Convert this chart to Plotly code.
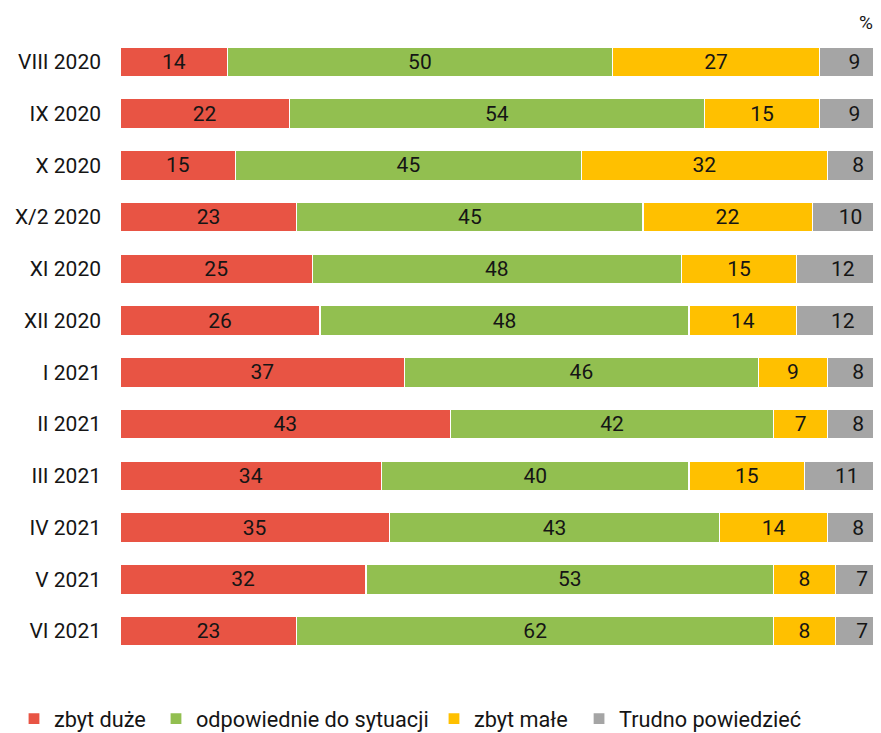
import plotly.graph_objects as go

categories = ["VIII 2020", "IX 2020", "X 2020", "X/2 2020", "XI 2020", "XII 2020",
              "I 2021", "II 2021", "III 2021", "IV 2021", "V 2021", "VI 2021"]
zbyt_duze = [14, 22, 15, 23, 25, 26, 37, 43, 34, 35, 32, 23]
odpowiednie = [50, 54, 45, 45, 48, 48, 46, 42, 40, 43, 53, 62]
zbyt_male = [27, 15, 32, 22, 15, 14, 9, 7, 15, 14, 8, 8]
trudno = [9, 9, 8, 10, 12, 12, 8, 8, 11, 8, 7, 7]

series = [
    ("zbyt duże", zbyt_duze, "#E85444", "legend"),
    ("odpowiednie do sytuacji", odpowiednie, "#92BF50", "legend2"),
    ("zbyt małe", zbyt_male, "#FFC000", "legend3"),
    ("Trudno powiedzieć", trudno, "#A5A5A5", "legend4"),
]

TXT = "#151515"

fig = go.Figure()
for name, vals, col, lg in series:
    fig.add_trace(go.Bar(
        y=categories, x=vals, name=name, orientation="h", legend=lg,
        marker=dict(color=col, line=dict(color="white", width=1.2)),
        text=[str(v) for v in vals], textposition="inside",
        insidetextanchor="middle", textangle=0, constraintext="none",
        textfont=dict(color=TXT, size=21, family="Roboto"),
        hoverinfo="skip",
    ))

def leg(xpos):
    return dict(orientation="h", x=xpos, xanchor="left", y=-0.066, yanchor="top",
                font=dict(size=21.7, color=TXT, family="Roboto"), itemwidth=30,
                bgcolor="rgba(0,0,0,0)")

# page body has an 8px margin, so the figure is sized/offset to compensate
fig.update_layout(
    barmode="stack",
    bargap=0.43,
    width=873, height=725,
    margin=dict(l=112, r=0, t=28, b=76, autoexpand=False),
    plot_bgcolor="white", paper_bgcolor="white",
    font=dict(family="Roboto", size=21, color=TXT),
    xaxis=dict(range=[0, 98.96], visible=False, fixedrange=True),
    yaxis=dict(autorange="reversed", showgrid=False, ticks="",
               ticklabelstandoff=18, tickfont=dict(size=21, color=TXT)),
    legend=leg(-0.1393),
    legend2=leg(0.0473),
    legend3=leg(0.4126),
    legend4=leg(0.6032),
    showlegend=True,
    annotations=[dict(text="%", x=0.98, y=1.021, xref="paper", yref="paper",
                      showarrow=False, font=dict(size=19, color=TXT),
                      xanchor="center", yanchor="middle")],
)

fig.write_html("out.html")
